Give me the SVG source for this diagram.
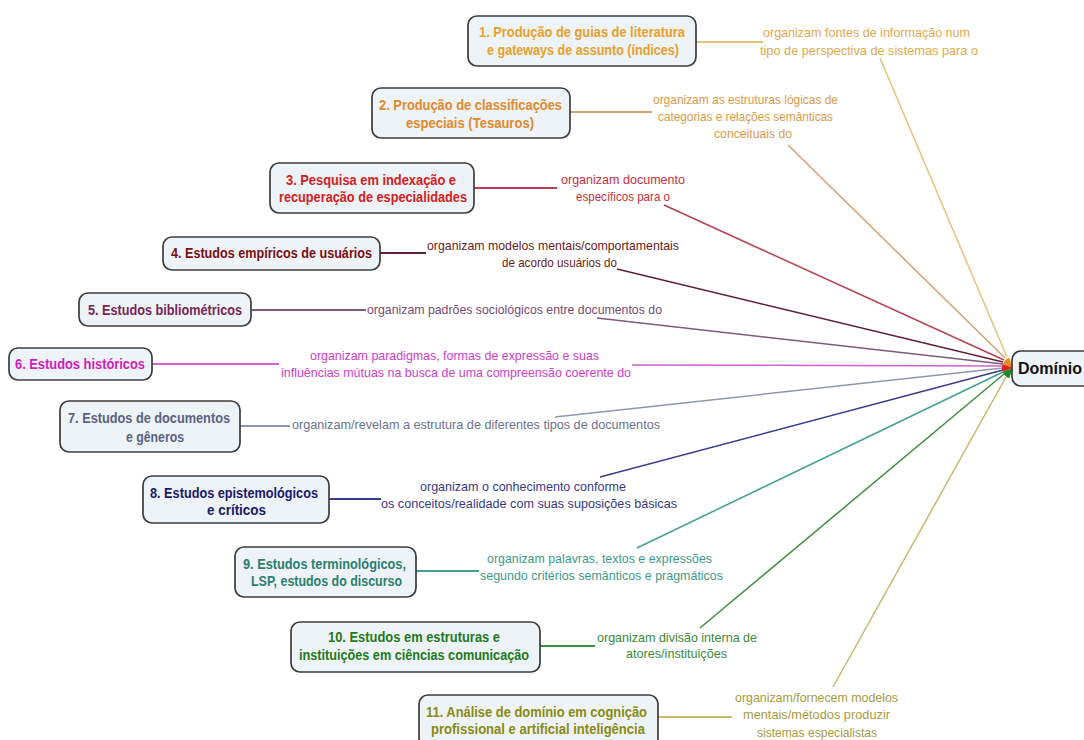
<svg xmlns="http://www.w3.org/2000/svg" width="1084" height="740" viewBox="0 0 1084 740">
<style>
.box{fill:#EEF3F7;stroke:#3C3C3C;stroke-width:1.7}
.nt{font-family:"Liberation Sans",Arial,sans-serif;font-size:14px;font-weight:bold}
.lt{font-family:"Liberation Sans",Arial,sans-serif;font-size:13px}
.c{fill:none;stroke-width:2}
.h{fill:none;stroke-width:1.5}
</style>
<rect width="1084" height="740" fill="#FFFFFF"/>
<g id="connectors">
<line class="c" x1="696" y1="42" x2="763" y2="42" stroke="#E8C27A"/>
<line class="h" x1="880" y1="58" x2="1007" y2="357" stroke="#E8C27A"/>
<line class="c" x1="570" y1="112" x2="652" y2="112" stroke="#D8A070"/>
<line class="h" x1="788" y1="145" x2="1005" y2="358" stroke="#D8A070"/>
<line class="c" x1="474" y1="188" x2="557" y2="188" stroke="#B84050"/>
<line class="h" x1="664" y1="205" x2="1004" y2="360" stroke="#B84050"/>
<line class="c" x1="380" y1="253" x2="426" y2="253" stroke="#602030"/>
<line class="h" x1="617" y1="269" x2="1003" y2="362" stroke="#602030"/>
<line class="c" x1="251" y1="310" x2="366" y2="310" stroke="#805878"/>
<line class="h" x1="597" y1="318" x2="1003" y2="364" stroke="#805878"/>
<line class="c" x1="152" y1="364" x2="279" y2="364" stroke="#D060D0"/>
<line class="h" x1="632" y1="365" x2="1003" y2="366" stroke="#D060D0"/>
<line class="c" x1="240" y1="426" x2="290" y2="426" stroke="#9096B0"/>
<line class="h" x1="555" y1="417" x2="1003" y2="368" stroke="#9096B0"/>
<line class="c" x1="329" y1="499" x2="381" y2="499" stroke="#3A3A90"/>
<line class="h" x1="600" y1="477" x2="1003" y2="370" stroke="#3A3A90"/>
<line class="c" x1="416" y1="571" x2="479" y2="571" stroke="#40A090"/>
<line class="h" x1="637" y1="548" x2="1003" y2="372" stroke="#40A090"/>
<line class="c" x1="540" y1="646" x2="595" y2="646" stroke="#3D8F3D"/>
<line class="h" x1="700" y1="628" x2="1004" y2="374" stroke="#3D8F3D"/>
<line class="c" x1="658" y1="717" x2="732" y2="717" stroke="#C8B868"/>
<line class="h" x1="833" y1="687" x2="1006" y2="377" stroke="#C8B868"/>
</g>
<g id="labels">
<g fill="#E2A94A" class="lt"><text x="763" y="37" textLength="207" lengthAdjust="spacingAndGlyphs">organizam fontes de informação num</text><text x="760" y="55" textLength="218" lengthAdjust="spacingAndGlyphs">tipo de perspectiva de sistemas para o</text></g>
<g fill="#DC9A48" class="lt"><text x="653" y="104" textLength="185" lengthAdjust="spacingAndGlyphs">organizam as estruturas lógicas de</text><text x="658" y="121" textLength="175" lengthAdjust="spacingAndGlyphs">categorias e relações semânticas</text><text x="714" y="138" textLength="78" lengthAdjust="spacingAndGlyphs">conceituais do</text></g>
<g fill="#C8303A" class="lt"><text x="561" y="184" textLength="124" lengthAdjust="spacingAndGlyphs">organizam documento</text><text x="576" y="201" textLength="94" lengthAdjust="spacingAndGlyphs">específicos para o</text></g>
<g fill="#6A1A22" class="lt"><text x="427" y="250" textLength="252" lengthAdjust="spacingAndGlyphs">organizam modelos mentais/comportamentais</text><text x="502" y="267" textLength="115" lengthAdjust="spacingAndGlyphs">de acordo usuários do</text></g>
<g fill="#7A4A70" class="lt"><text x="367" y="314" textLength="295" lengthAdjust="spacingAndGlyphs">organizam padrões sociológicos entre documentos do</text></g>
<g fill="#D040C8" class="lt"><text x="310" y="360" textLength="289" lengthAdjust="spacingAndGlyphs">organizam paradigmas, formas de expressão e suas</text><text x="281" y="377" textLength="350" lengthAdjust="spacingAndGlyphs">influências mútuas na busca de uma compreensão coerente do</text></g>
<g fill="#6A7290" class="lt"><text x="292" y="429" textLength="368" lengthAdjust="spacingAndGlyphs">organizam/revelam a estrutura de diferentes tipos de documentos</text></g>
<g fill="#38388A" class="lt"><text x="420" y="491" textLength="206" lengthAdjust="spacingAndGlyphs">organizam o conhecimento conforme</text><text x="381" y="508" textLength="296" lengthAdjust="spacingAndGlyphs">os conceitos/realidade com suas suposições básicas</text></g>
<g fill="#3C9A88" class="lt"><text x="487" y="563" textLength="225" lengthAdjust="spacingAndGlyphs">organizam palavras, textos e expressões</text><text x="480" y="580" textLength="243" lengthAdjust="spacingAndGlyphs">segundo critérios semânticos e pragmáticos</text></g>
<g fill="#3A8A3A" class="lt"><text x="597" y="642" textLength="160" lengthAdjust="spacingAndGlyphs">organizam divisão interna de</text><text x="626" y="658" textLength="101" lengthAdjust="spacingAndGlyphs">atores/instituições</text></g>
<g fill="#A89A40" class="lt"><text x="735" y="702" textLength="163" lengthAdjust="spacingAndGlyphs">organizam/fornecem modelos</text><text x="743" y="719" textLength="147" lengthAdjust="spacingAndGlyphs">mentais/métodos produzir</text><text x="757" y="737" textLength="120" lengthAdjust="spacingAndGlyphs">sistemas especialistas</text></g>
</g>
<g id="node1"><rect class="box" x="468" y="16" width="228" height="50" rx="9"/><g class="nt" fill="#E8A02A"><text x="479" y="37" textLength="206" lengthAdjust="spacingAndGlyphs">1. Produção de guias de literatura</text><text x="487" y="55" textLength="192" lengthAdjust="spacingAndGlyphs">e gateways de assunto (índices)</text></g></g>
<g id="node2"><rect class="box" x="372" y="88" width="198" height="50" rx="9"/><g class="nt" fill="#E08A2C"><text x="379" y="110" textLength="183" lengthAdjust="spacingAndGlyphs">2. Produção de classificações</text><text x="406" y="128" textLength="128" lengthAdjust="spacingAndGlyphs">especiais (Tesauros)</text></g></g>
<g id="node3"><rect class="box" x="270" y="163" width="204" height="50" rx="9"/><g class="nt" fill="#D42020"><text x="286" y="185" textLength="170" lengthAdjust="spacingAndGlyphs">3. Pesquisa em indexação e</text><text x="279" y="202" textLength="188" lengthAdjust="spacingAndGlyphs">recuperação de especialidades</text></g></g>
<g id="node4"><rect class="box" x="163" y="237" width="217" height="33" rx="9"/><text class="nt" fill="#7A0E10" x="171" y="258" textLength="201" lengthAdjust="spacingAndGlyphs">4. Estudos empíricos de usuários</text></g>
<g id="node5"><rect class="box" x="79" y="293" width="172" height="33" rx="9"/><text class="nt" fill="#7A2458" x="88" y="315" textLength="154" lengthAdjust="spacingAndGlyphs">5. Estudos bibliométricos</text></g>
<g id="node6"><rect class="box" x="9" y="348" width="143" height="32" rx="9"/><text class="nt" fill="#D01CC0" x="15" y="369" textLength="130" lengthAdjust="spacingAndGlyphs">6. Estudos históricos</text></g>
<g id="node7"><rect class="box" x="60" y="401" width="180" height="51" rx="9"/><g class="nt" fill="#5A6282"><text x="68" y="423" textLength="162" lengthAdjust="spacingAndGlyphs">7. Estudos de documentos</text><text x="126" y="442" textLength="58" lengthAdjust="spacingAndGlyphs">e gêneros</text></g></g>
<g id="node8"><rect class="box" x="143" y="476" width="186" height="47" rx="9"/><g class="nt" fill="#1A1A6A"><text x="150" y="498" textLength="168" lengthAdjust="spacingAndGlyphs">8. Estudos epistemológicos</text><text x="207" y="515" textLength="59" lengthAdjust="spacingAndGlyphs">e críticos</text></g></g>
<g id="node9"><rect class="box" x="235" y="547" width="181" height="50" rx="9"/><g class="nt" fill="#2A7F6E"><text x="243" y="569" textLength="163" lengthAdjust="spacingAndGlyphs">9. Estudos terminológicos,</text><text x="251" y="586" textLength="151" lengthAdjust="spacingAndGlyphs">LSP, estudos do discurso</text></g></g>
<g id="node10"><rect class="box" x="291" y="622" width="249" height="50" rx="9"/><g class="nt" fill="#1D7A1D"><text x="328" y="642" textLength="172" lengthAdjust="spacingAndGlyphs">10. Estudos em estruturas e</text><text x="299" y="660" textLength="230" lengthAdjust="spacingAndGlyphs">instituições em ciências comunicação</text></g></g>
<g id="node11"><rect class="box" x="419" y="695" width="239" height="52" rx="9"/><g class="nt" fill="#8A8A12"><text x="426" y="717" textLength="221" lengthAdjust="spacingAndGlyphs">11. Análise de domínio em cognição</text><text x="431" y="734" textLength="214" lengthAdjust="spacingAndGlyphs">profissional e artificial inteligência</text></g></g>
<g id="hub">
<path d="M1013,368 L1009.2,357.7 A11,11 0 0 0 1002.7,364.2 Z" fill="#F08A20"/>
<path d="M1013,368 L1002.7,364.2 A11,11 0 0 0 1002.7,371.8 Z" fill="#E0201C"/>
<path d="M1013,368 L1002.7,371.8 A11,11 0 0 0 1009.2,378.3 Z" fill="#1E8A2A"/>
</g>
<g id="central"><rect class="box" x="1012" y="351" width="90" height="35" rx="9"/><text x="1018" y="374" font-family="Liberation Sans, Arial, sans-serif" font-size="16" font-weight="bold" fill="#111111">Domínio</text></g>
</svg>
